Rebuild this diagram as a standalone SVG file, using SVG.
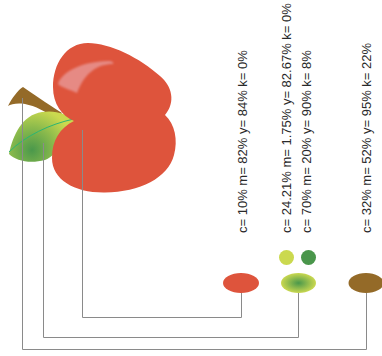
<svg xmlns="http://www.w3.org/2000/svg" width="382" height="356" viewBox="0 0 382 356">
  <defs>
    <radialGradient id="leafGrad" cx="32" cy="150" r="42" gradientUnits="userSpaceOnUse">
      <stop offset="0" stop-color="#4a984b"/>
      <stop offset="0.55" stop-color="#8dbb4c"/>
      <stop offset="1" stop-color="#cbd94f"/>
    </radialGradient>
    <radialGradient id="swatchGrad" cx="0.5" cy="0.5" r="0.5">
      <stop offset="0" stop-color="#4a984b"/>
      <stop offset="1" stop-color="#cad850"/>
    </radialGradient>
    <filter id="soft" x="-20%" y="-20%" width="140%" height="140%">
      <feGaussianBlur stdDeviation="0.8"/>
    </filter>
  </defs>
  <style>
    .lbl { font-family: "Liberation Sans", Arial, sans-serif; font-size: 13px; fill: #2a2a2a; }
    .wire { fill: none; stroke: #8a8a8a; stroke-width: 1; }
  </style>
  <rect width="382" height="356" fill="#fff"/>

  <!-- stem -->
  <g id="stem">
    <path d="M8,106 C12,98 18,90 23,87 C32,93 46,103 62,113 L56,120 C46,111 35,106 25,104 C17,103 11,104 8,106 Z" fill="#946a28"/>
  </g>

  <!-- leaf with vein -->
  <g id="leaf">
    <path d="M9,154 C13,135 22,115 42,112 C56,110 66,114 76,120 C68,135 58,155 45,160 C30,164 16,161 9,154 Z" fill="url(#leafGrad)"/>
    <path d="M9,152 C25,136 50,124 74,119" fill="none" stroke="#2bb673" stroke-width="1"/>
  </g>

  <!-- apple body -->
  <g id="apple">
    <path d="M74,121 C62,116 53,104 53,87 C53,64 66,43 88,43 C110,43 140,58 160,76 C172,86 176,102 165,115 C175,124 178,140 174,155 C168,178 140,192 105,192.5 C75,193 52,180 52,158 C52,140 60,128 74,121 Z" fill="#de543c"/>
    <path d="M58,84 C62,72 80,62 108,61 C112,61 114,62 113,64 C98,64 85,72 77,93 C72,90 62,88 58,84 Z" fill="#e68a84" filter="url(#soft)"/>
  </g>

  <!-- colour swatches -->
  <g id="swatch-red">
    <ellipse cx="241" cy="283" rx="18" ry="10" fill="#de543c"/>
  </g>
  <g id="swatch-leaf">
    <circle cx="286.5" cy="257.5" r="7.5" fill="#cbd94f"/>
    <circle cx="308.5" cy="257.5" r="7.5" fill="#4a964b"/>
    <ellipse cx="298.5" cy="283" rx="17.5" ry="10" fill="url(#swatchGrad)"/>
  </g>
  <g id="swatch-brown">
    <ellipse cx="366" cy="283" rx="17.5" ry="10" fill="#946a28"/>
  </g>

  <!-- leader lines -->
  <g id="connectors">
    <path class="wire" d="M82.5,130 V317.5 H241.5 V293"/>
    <path class="wire" d="M43.5,143 V337.5 H298.5 V293"/>
    <path class="wire" d="M22.5,98 V349.5 H366.5 V293"/>
  </g>

  <!-- CMYK labels -->
  <g id="labels">
    <text class="lbl" transform="translate(247,233) rotate(-90)">c= 10% m= 82% y= 84% k= 0%</text>
    <text class="lbl" transform="translate(290.5,233) rotate(-90)">c= 24.21% m= 1.75% y= 82.67% k= 0%</text>
    <text class="lbl" transform="translate(311,233) rotate(-90)">c= 70% m= 20% y= 90% k= 8%</text>
    <text class="lbl" transform="translate(370.5,233) rotate(-90)">c= 32% m= 52% y= 95% k= 22%</text>
  </g>
</svg>
